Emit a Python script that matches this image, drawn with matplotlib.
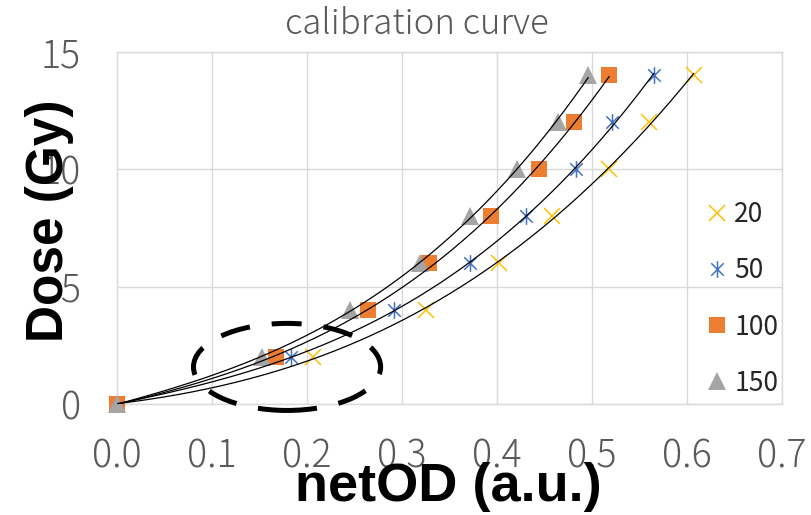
import numpy as np
import matplotlib
matplotlib.use("Agg")
import matplotlib.pyplot as plt
from matplotlib.path import Path
from matplotlib.patches import Ellipse

plt.rcParams["font.family"] = ["Noto Sans CJK JP", "DejaVu Sans"]

# ---- data --------------------------------------------------------------
dose = [0, 2, 4, 6, 8, 10, 12, 14]
od_20 = [0.0, 0.206, 0.325, 0.402, 0.458, 0.518, 0.560, 0.607]
od_50 = [0.0, 0.183, 0.292, 0.372, 0.430, 0.483, 0.521, 0.565]
od_100 = [0.0, 0.167, 0.264, 0.328, 0.394, 0.444, 0.481, 0.518]
od_150 = [0.0, 0.153, 0.245, 0.319, 0.372, 0.421, 0.464, 0.496]
series_labels = ["20", "50", "100", "150"]
x_ticks = [0.0, 0.1, 0.2, 0.3, 0.4, 0.5, 0.6, 0.7]
y_ticks = [0, 5, 10, 15]

GRID = "#d9d9d9"
TICK = "#595959"
LABEL_FONT = ["Liberation Sans", "Noto Sans CJK JP"]

# Excel-style "star" marker: vertical bar plus an X
star = Path([(0, -1), (0, 1), (-0.75, -0.75), (0.75, 0.75),
             (-0.75, 0.75), (0.75, -0.75)],
            [Path.MOVETO, Path.LINETO, Path.MOVETO, Path.LINETO,
             Path.MOVETO, Path.LINETO])

styles = [
    dict(marker="x", color="#ffc000", ms=11, mew=1.1, ls="none"),
    dict(marker=star, color="#4472c4", ms=12, mew=1.1, ls="none"),
    dict(marker="s", color="#ed7d31", ms=12, mew=0, ls="none"),
    dict(marker="^", color="#a5a5a5", ms=13, mew=0, ls="none"),
]

fig = plt.figure(figsize=(8.11, 5.15), dpi=100)
ax = fig.add_axes([117 / 811, 1 - 404 / 515, 665 / 811, 352 / 515])

handles = []
for od, lab, st in zip([od_20, od_50, od_100, od_150], series_labels, styles):
    h, = ax.plot(od, dose, label=lab, zorder=3, clip_on=False, **st)
    handles.append(h)
    # polynomial trendline over the measured range
    coef = np.polyfit(od, dose, 3)
    xs = np.linspace(0, max(od), 200)
    ax.plot(xs, np.polyval(coef, xs), color="black", lw=0.9, zorder=4)

ax.set_xlim(0, 0.7)
ax.set_ylim(0, 15)
ax.set_xticks(x_ticks)
ax.set_xticklabels([f"{v:.1f}" for v in x_ticks])
ax.set_yticks(y_ticks)
ax.grid(True, color=GRID, lw=1.0)
ax.set_axisbelow(True)
for s in ax.spines.values():
    s.set_color(GRID)
    s.set_linewidth(1.0)
ax.tick_params(length=0, labelsize=27, labelcolor=TICK)
ax.tick_params(axis="y", pad=26)
ax.tick_params(axis="x", pad=24)
for t in ax.get_xticklabels() + ax.get_yticklabels():
    t.set_fontweight("light")

# dashed highlight around the low-dose region
ell = Ellipse((0.179, 1.58), 0.197, 3.71, fill=False, ec="black", lw=3.6,
              ls=(0, (6, 4.4)), clip_on=False, zorder=5)
ax.add_patch(ell)

fig.text(417 / 811, 1 - 24 / 515, "calibration curve", ha="center",
         va="center", fontsize=25, color=TICK, fontweight="light")
fig.text(448 / 811, 1 - 487 / 515, "netOD (a.u.)", ha="center",
         va="center", fontsize=39, weight="bold", color="black",
         family=LABEL_FONT)
fig.text(50 / 811, 1 - 221 / 515, "Dose (Gy)", ha="center", va="center",
         rotation=90, fontsize=37, weight="bold", color="black",
         family=LABEL_FONT)

leg = ax.legend(handles=handles, loc="center left",
                bbox_to_anchor=(692 / 811, 1 - 299 / 515),
                bbox_transform=fig.transFigure, frameon=False, fontsize=19,
                labelspacing=1.1, handlelength=0.9, handletextpad=0.2,
                borderpad=0)
for t in leg.get_texts():
    t.set_color("#262626")

fig.savefig("out.png", dpi=100)
